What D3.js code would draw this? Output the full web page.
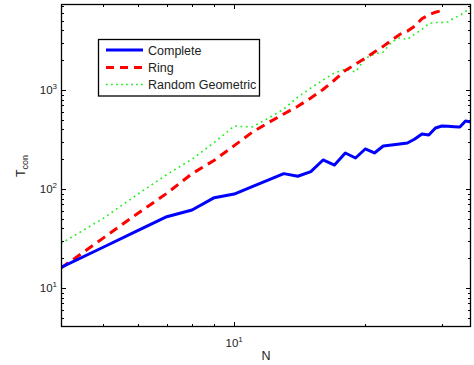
<!DOCTYPE html>
<html><head><meta charset="utf-8">
<script src="https://cdn.jsdelivr.net/npm/d3@7"></script>
<style>body{margin:0;background:#fff}svg{display:block}text{font-family:Arial,"Liberation Sans",sans-serif;fill:#222}</style>
</head><body>
<script>
const nValues = d3.range(4, 36);
const ringN = d3.range(4, 31);
const complete = [16.1,25.8,37.9,52.5,61.4,81.7,88.9,105.6,123.6,142.9,134.4,149.6,196.3,174.7,231,205.6,253.6,231,271.7,278,284.8,291.5,320,359.7,351,413,433,430,426,423,486,475];
const ring = [15.9,31.9,56.6,90.4,142.9,195,274,374,470,573,684,830,1012,1262,1574,1824,2095,2420,2760,3183,3637,3935,4417,5250,5730,6110,6350];
const geometric = [28.1,50.5,88.3,140,200,295,433,423,521,643,849,1047,1262,1486,1630,1520,2080,2310,2420,3055,3350,3240,3680,4085,4700,4810,4810,4866,5335,5660,6210,6800];
const seriesNames = ["Complete","Ring","Random Geometric"];
const xMajor = [10], xExp = [1];
const yMajor = [10,100,1000], yExp = [1,2,3];

const W=474,H=365, L=61,R=471,T=4,B=327;
const svg=d3.select("body").append("svg").attr("width",W).attr("height",H);
const x=d3.scaleLog().domain([4,35]).range([L,R]);
const y=d3.scaleLog().domain([4.036,7390]).range([B,T]);

svg.append("defs").append("clipPath").attr("id","c").append("rect").attr("x",L).attr("y",T).attr("width",R-L).attr("height",B-T);

// minor ticks
const xMinor=[5,6,7,8,9,20,30];
const yMinor=[];
[1,10,100,1000].forEach(d=>{for(let k=2;k<=9;k++){const v=d*k; if(v>y.domain()[0]&&v<y.domain()[1]&&![10,100,1000].includes(v)) yMinor.push(v);}});
const tk=svg.append("g").attr("stroke","#000").attr("stroke-width",1);
xMinor.forEach(v=>{const px=Math.round(x(v))+0.5;
  tk.append("line").attr("x1",px).attr("x2",px).attr("y1",B).attr("y2",B-3);
  tk.append("line").attr("x1",px).attr("x2",px).attr("y1",T).attr("y2",T+3);});
xMajor.forEach(v=>{const px=Math.round(x(v))+0.5;
  tk.append("line").attr("x1",px).attr("x2",px).attr("y1",B).attr("y2",B-5);
  tk.append("line").attr("x1",px).attr("x2",px).attr("y1",T).attr("y2",T+5);});
yMinor.forEach(v=>{const py=Math.round(y(v))+0.5;
  tk.append("line").attr("x1",L).attr("x2",L+3).attr("y1",py).attr("y2",py);
  tk.append("line").attr("x1",R).attr("x2",R-3).attr("y1",py).attr("y2",py);});
yMajor.forEach(v=>{const py=Math.round(y(v))+0.5;
  tk.append("line").attr("x1",L).attr("x2",L+5).attr("y1",py).attr("y2",py);
  tk.append("line").attr("x1",R).attr("x2",R-5).attr("y1",py).attr("y2",py);});

// series
const g=svg.append("g").attr("clip-path","url(#c)");
const line=d3.line().x(d=>x(d[0])).y(d=>y(d[1]));
g.append("path").datum(nValues.map((n,i)=>[n,geometric[i]])).attr("d",line).attr("fill","none").attr("stroke","#22ee22").attr("stroke-width",1.6).attr("stroke-dasharray","1.8,3.6");
g.append("path").datum(ringN.map((n,i)=>[n,ring[i]])).attr("d",line).attr("fill","none").attr("stroke","#ff0000").attr("stroke-width",3).attr("stroke-dasharray","9,6");
g.append("path").datum(nValues.map((n,i)=>[n,complete[i]])).attr("d",line).attr("fill","none").attr("stroke","#0000ff").attr("stroke-width",3).attr("stroke-linejoin","round");

// frame
svg.append("rect").attr("x",L+0.5).attr("y",T+0.5).attr("width",R-L-1).attr("height",B-T-1).attr("fill","none").attr("stroke","#000").attr("stroke-width",1.3);

// tick labels
xMajor.forEach((v,i)=>{const t=svg.append("text").attr("x",x(v)).attr("y",347).attr("text-anchor","middle").attr("font-size",11.5);
  t.append("tspan").text("10"); t.append("tspan").attr("dy",-5).attr("font-size",8).text(xExp[i]);});
yMajor.forEach((v,i)=>{const t=svg.append("text").attr("x",57).attr("y",y(v)+4).attr("text-anchor","end").attr("font-size",11.5);
  t.append("tspan").text("10"); t.append("tspan").attr("dy",-5).attr("font-size",8).text(yExp[i]);});

// axis labels
svg.append("text").attr("x",266).attr("y",360).attr("text-anchor","middle").attr("font-size",12.5).text("N");
const yl=svg.append("text").attr("transform","translate(25,166) rotate(-90)").attr("text-anchor","middle").attr("font-size",12.5);
yl.append("tspan").text("T"); yl.append("tspan").attr("dy",3).attr("font-size",9).text("con");

// legend
const lg=svg.append("g");
lg.append("rect").attr("x",98.5).attr("y",39.5).attr("width",161).attr("height",56.5).attr("fill","#fff").attr("stroke","#000").attr("stroke-width",1.3);
const styles=[{c:"#0000ff",w:3,d:null},{c:"#ff0000",w:3,d:"8,6"},{c:"#22ee22",w:1.6,d:"1.8,3.2"}];
const ly=[50,67.5,84.5];
seriesNames.forEach((s,i)=>{
  lg.append("line").attr("x1",106).attr("x2",143).attr("y1",ly[i]).attr("y2",ly[i]).attr("stroke",styles[i].c).attr("stroke-width",styles[i].w).attr("stroke-dasharray",styles[i].d);
  lg.append("text").attr("x",148).attr("y",ly[i]+4.5).attr("font-size",12.5).text(s);
});
</script>
</body></html>
